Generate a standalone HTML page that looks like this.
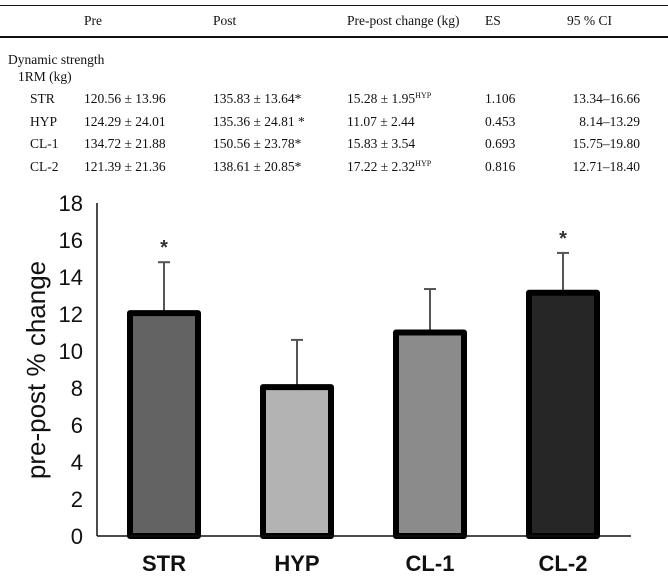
<!DOCTYPE html>
<html><head><meta charset="utf-8"><style>
body{margin:0;background:#fff;width:668px;height:580px;overflow:hidden;position:relative;font-family:"Liberation Serif",serif;color:#111}
.t{position:absolute;font-size:13.5px;white-space:nowrap}
.line{position:absolute;left:0;width:668px;background:#111}
sup{font-size:8px;vertical-align:5px}
</style></head><body>
<div class="line" style="top:5px;height:1px"></div>
<div class="line" style="top:36px;height:2px"></div>
<div class="t" style="left:84px;top:13px">Pre</div>
<div class="t" style="left:213px;top:13px">Post</div>
<div class="t" style="left:347px;top:13px">Pre-post change (kg)</div>
<div class="t" style="left:485px;top:13px">ES</div>
<div class="t" style="left:567px;top:13px">95 % CI</div>
<div class="t" style="left:8px;top:52px">Dynamic strength</div>
<div class="t" style="left:18px;top:69px">1RM (kg)</div>
<div id="rows"></div>
<svg id="chart" width="668" height="580" style="position:absolute;left:0;top:0"></svg>
<script>
const tblGroups=["STR","HYP","CL-1","CL-2"];
const tblPre=["120.56 ± 13.96","124.29 ± 24.01","134.72 ± 21.88","121.39 ± 21.36"];
const tblPost=["135.83 ± 13.64*","135.36 ± 24.81 *","150.56 ± 23.78*","138.61 ± 20.85*"];
const tblChange=["15.28 ± 1.95","11.07 ± 2.44","15.83 ± 3.54","17.22 ± 2.32"];
const tblSup=["HYP","","","HYP"];
const tblES=["1.106","0.453","0.693","0.816"];
const tblCI=["13.34–16.66","8.14–13.29","15.75–19.80","12.71–18.40"];

const categories=["STR","HYP","CL-1","CL-2"];
const values=[12.05,8.05,11.0,13.15];
const errors=[2.75,2.55,2.35,2.15];
const sig=[true,false,false,true];
const fills=["#636363","#b3b3b3","#8b8b8b","#262626"];
const yTicks=[0,2,4,6,8,10,12,14,16,18];

const rows=document.getElementById('rows');
tblGroups.forEach((g,i)=>{
  const top=91+i*22.5;
  const cells=[[30,g,'label'],[84,tblPre[i],'pre'],[213,tblPost[i],'post'],[347,tblChange[i]+(tblSup[i]?'<sup>'+tblSup[i]+'</sup>':''),'change'],[485,tblES[i],'es']];
  cells.forEach(c=>{const d=document.createElement('div');d.className='t';d.style.left=c[0]+'px';d.style.top=top+'px';d.innerHTML=c[1];


rows.appendChild(d);});
  const d=document.createElement('div');d.className='t';d.style.right=(668-640)+'px';d.style.top=top+'px';d.textContent=tblCI[i];


rows.appendChild(d);
});

const svg=document.getElementById('chart');const NS='http://www.w3.org/2000/svg';
function el(t,a,p){const e=document.createElementNS(NS,t);for(const k in a)e.setAttribute(k,a[k]);(p||svg).appendChild(e);return e;}
const y=v=>536-18.5*v;
const x=i=>164+i*133;
const ax=el('line',{x1:97,y1:203,x2:97,y2:536,stroke:'#111','stroke-width':1.5});


yTicks.forEach(t=>{const e=el('text',{x:83,y:y(t)+8,'text-anchor':'end','font-family':'Liberation Sans, sans-serif','font-size':22,fill:'#111'});e.textContent=t;

});
const yl=el('text',{x:0,y:0,transform:'translate(45,370) rotate(-90)','text-anchor':'middle','font-family':'Liberation Sans, sans-serif','font-size':26,fill:'#111'});yl.textContent='pre-post % change';


categories.forEach((c,i)=>{
  const cx=x(i);
  const eb=el('line',{x1:cx,y1:y(values[i]),x2:cx,y2:y(values[i]+errors[i]),stroke:'#555','stroke-width':2});
  
  
  const cap=el('line',{x1:cx-6,y1:y(values[i]+errors[i]),x2:cx+6,y2:y(values[i]+errors[i]),stroke:'#555','stroke-width':2});
  
  
  const r=el('rect',{x:cx-34,y:y(values[i]),width:68,height:536-y(values[i]),fill:fills[i],stroke:'#000','stroke-width':6,'stroke-linejoin':'round'});
  
  
  if(sig[i]){const s=el('text',{x:cx,y:y(values[i]+errors[i])-8,'text-anchor':'middle','font-family':'Liberation Sans, sans-serif','font-size':20,'font-weight':'bold',fill:'#333'});s.textContent='*';
  
  }
  const l=el('text',{x:cx,y:571,'text-anchor':'middle','font-family':'Liberation Sans, sans-serif','font-size':22,'font-weight':'bold',fill:'#111'});l.textContent=c;
  
  
});
const xa=el('line',{x1:97,y1:536,x2:631,y2:536,stroke:'#111','stroke-width':1.5});


</script>
</body></html>
